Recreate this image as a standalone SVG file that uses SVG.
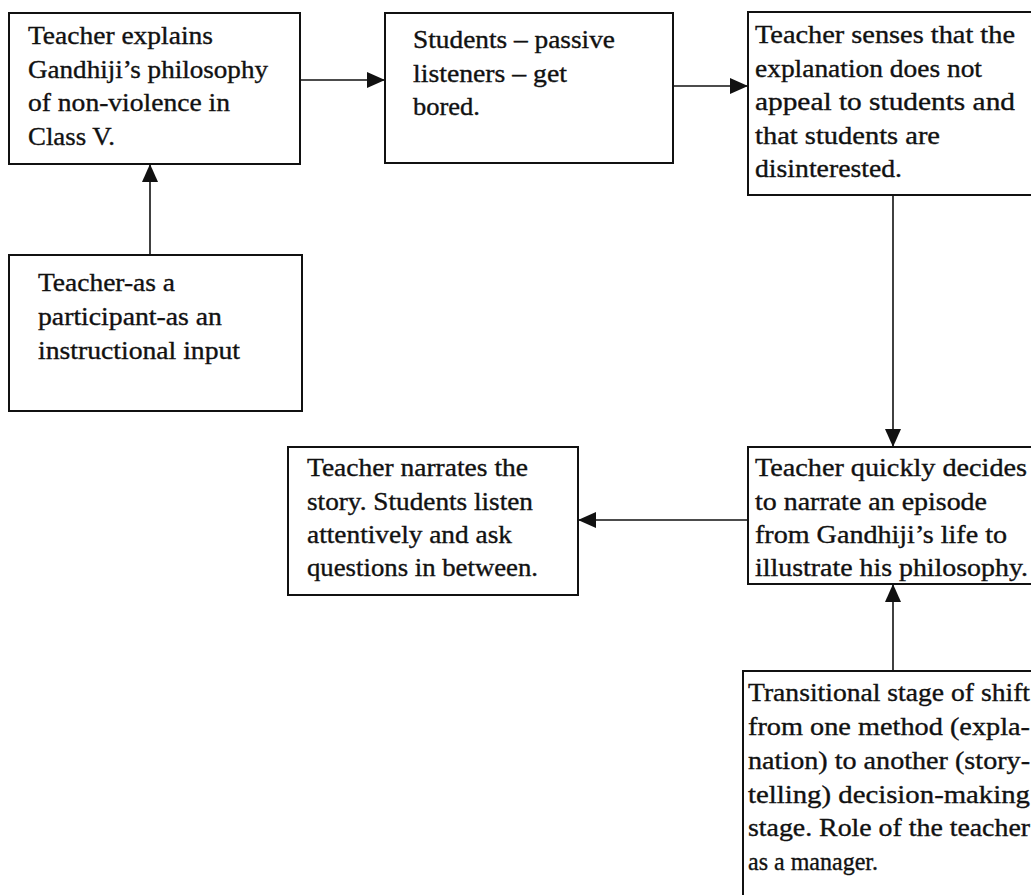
<svg xmlns="http://www.w3.org/2000/svg" width="1031" height="895" viewBox="0 0 1031 895">
<style>
.box{fill:#fff;stroke:#111;stroke-width:2}
.t{font-family:"Liberation Serif","Times New Roman",serif;font-size:25px;fill:#111;stroke:#111;stroke-width:0.35}
.c{stroke:#111;stroke-width:1.6;fill:none;marker-end:url(#ah)}
</style>
<defs>
<marker id="ah" markerUnits="userSpaceOnUse" markerWidth="18" markerHeight="16" viewBox="0 0 18 16" refX="18" refY="8" orient="auto">
<path d="M0,0 L18,8 L0,16 Z" fill="#111"/>
</marker>
</defs>
<rect width="1031" height="895" fill="#fff"/>
<g id="connectors">
<line class="c" x1="300" y1="80" x2="385" y2="80"/>
<line class="c" x1="673" y1="86" x2="748" y2="86"/>
<line class="c" x1="893" y1="195" x2="893" y2="447"/>
<line class="c" x1="748" y1="520" x2="578" y2="520"/>
<line class="c" x1="893" y1="671" x2="893" y2="584"/>
<line class="c" x1="150" y1="255" x2="150" y2="164"/>
</g>
<g id="n1">
<rect class="box" x="9" y="13" width="291" height="151"/>
<text class="t" x="28" y="44" textLength="185" lengthAdjust="spacingAndGlyphs">Teacher explains</text>
<text class="t" x="28" y="78" textLength="240" lengthAdjust="spacingAndGlyphs">Gandhiji’s philosophy</text>
<text class="t" x="28" y="111" textLength="202" lengthAdjust="spacingAndGlyphs">of non-violence in</text>
<text class="t" x="28" y="145" textLength="87" lengthAdjust="spacingAndGlyphs">Class V.</text>
</g>
<g id="n2">
<rect class="box" x="385" y="13" width="288" height="150"/>
<text class="t" x="413" y="48" textLength="202" lengthAdjust="spacingAndGlyphs">Students – passive</text>
<text class="t" x="413" y="82" textLength="154" lengthAdjust="spacingAndGlyphs">listeners – get</text>
<text class="t" x="413" y="115" textLength="67" lengthAdjust="spacingAndGlyphs">bored.</text>
</g>
<g id="n3">
<rect class="box" x="748" y="12" width="290" height="183"/>
<text class="t" x="755" y="43" textLength="260" lengthAdjust="spacingAndGlyphs">Teacher senses that the</text>
<text class="t" x="755" y="77" textLength="227" lengthAdjust="spacingAndGlyphs">explanation does not</text>
<text class="t" x="755" y="110" textLength="260" lengthAdjust="spacingAndGlyphs">appeal to students and</text>
<text class="t" x="755" y="144" textLength="185" lengthAdjust="spacingAndGlyphs">that students are</text>
<text class="t" x="755" y="177" textLength="147" lengthAdjust="spacingAndGlyphs">disinterested.</text>
</g>
<g id="n4">
<rect class="box" x="9" y="255" width="293" height="156"/>
<text class="t" x="38" y="291" textLength="137" lengthAdjust="spacingAndGlyphs">Teacher-as a</text>
<text class="t" x="38" y="325" textLength="184" lengthAdjust="spacingAndGlyphs">participant-as an</text>
<text class="t" x="38" y="359" textLength="202" lengthAdjust="spacingAndGlyphs">instructional input</text>
</g>
<g id="n5">
<rect class="box" x="288" y="447" width="290" height="148"/>
<text class="t" x="307" y="476" textLength="221" lengthAdjust="spacingAndGlyphs">Teacher narrates the</text>
<text class="t" x="307" y="510" textLength="226" lengthAdjust="spacingAndGlyphs">story. Students listen</text>
<text class="t" x="307" y="543" textLength="205" lengthAdjust="spacingAndGlyphs">attentively and ask</text>
<text class="t" x="307" y="576" textLength="231" lengthAdjust="spacingAndGlyphs">questions in between.</text>
</g>
<g id="n6">
<rect class="box" x="748" y="447" width="290" height="137"/>
<text class="t" x="755" y="476" textLength="272" lengthAdjust="spacingAndGlyphs">Teacher quickly decides</text>
<text class="t" x="755" y="510" textLength="232" lengthAdjust="spacingAndGlyphs">to narrate an episode</text>
<text class="t" x="755" y="543" textLength="252" lengthAdjust="spacingAndGlyphs">from Gandhiji’s life to</text>
<text class="t" x="755" y="576" textLength="273" lengthAdjust="spacingAndGlyphs">illustrate his philosophy.</text>
</g>
<g id="n7">
<rect class="box" x="743" y="671" width="295" height="240"/>
<text class="t" x="748" y="701" textLength="282" lengthAdjust="spacingAndGlyphs">Transitional stage of shift</text>
<text class="t" x="748" y="735" textLength="282" lengthAdjust="spacingAndGlyphs">from one method (expla-</text>
<text class="t" x="748" y="769" textLength="282" lengthAdjust="spacingAndGlyphs">nation) to another (story-</text>
<text class="t" x="748" y="803" textLength="282" lengthAdjust="spacingAndGlyphs">telling)  decision-making</text>
<text class="t" x="748" y="836" textLength="282" lengthAdjust="spacingAndGlyphs">stage. Role of the teacher</text>
<text class="t" x="748" y="870" textLength="130" lengthAdjust="spacingAndGlyphs">as a manager.</text>
</g>
</svg>
